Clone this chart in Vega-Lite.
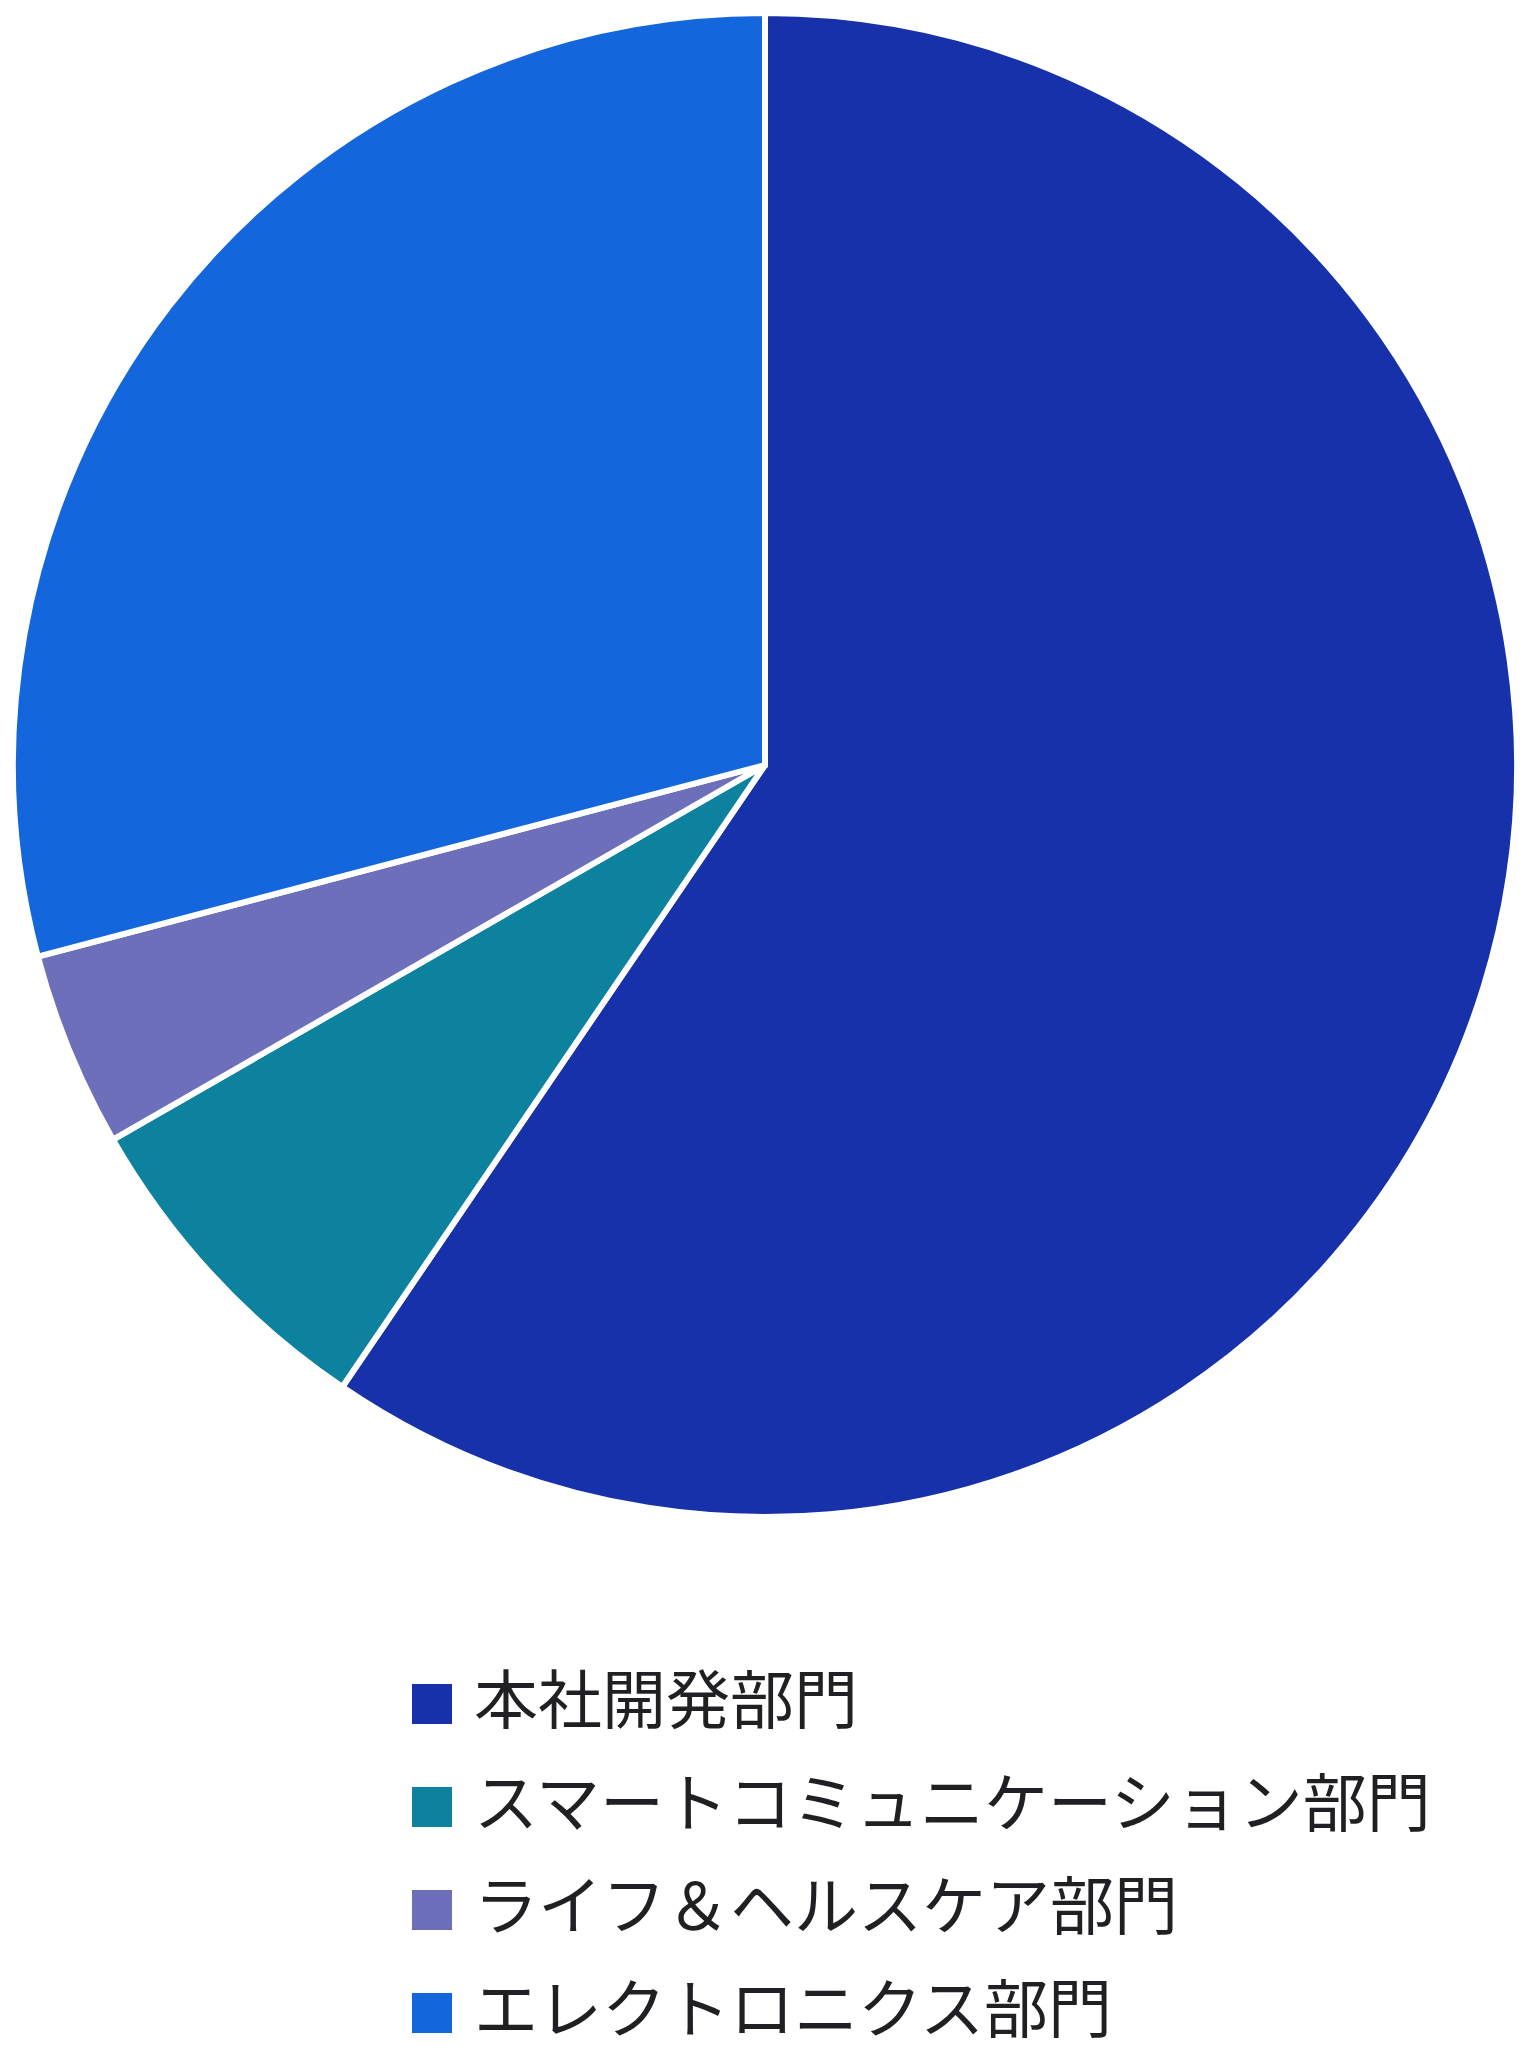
{
  "$schema": "https://vega.github.io/schema/vega-lite/v6.json",
  "width": 1530,
  "height": 1530,
  "padding": 0,
  "autosize": {"type": "pad"},
  "background": "white",
  "config": {"view": {"stroke": null}},
  "data": {
    "values": [
      {"dept": "本社開発部門", "value": 59.5, "order": 1},
      {"dept": "スマートコミュニケーション部門", "value": 7.2, "order": 2},
      {"dept": "ライフ＆ヘルスケア部門", "value": 4.2, "order": 3},
      {"dept": "エレクトロニクス部門", "value": 29.1, "order": 4}
    ]
  },
  "mark": {"type": "arc", "outerRadius": 752, "stroke": "white", "strokeWidth": 6},
  "encoding": {
    "theta": {"field": "value", "type": "quantitative", "stack": true},
    "order": {"field": "order", "type": "quantitative"},
    "color": {
      "field": "dept",
      "type": "nominal",
      "sort": null,
      "scale": {
        "domain": ["本社開発部門", "スマートコミュニケーション部門", "ライフ＆ヘルスケア部門", "エレクトロニクス部門"],
        "range": ["#1631A9", "#0C829F", "#6E6FBB", "#1366DB"]
      },
      "legend": {
        "title": null,
        "orient": "none",
        "legendX": 400,
        "legendY": 1672,
        "direction": "vertical",
        "symbolType": "square",
        "symbolSize": 1600,
        "symbolStrokeWidth": 0,
        "labelFont": "Noto Sans CJK JP",
        "labelFontSize": 64,
        "labelColor": "#1F1F24",
        "labelOffset": 10,
        "labelLimit": 1200,
        "rowPadding": 39,
        "encode": {
          "symbols": {
            "update": {
              "fill": {"signal": "datum.label === '本社開発部門' ? '#0433B1' : datum.label === 'スマートコミュニケーション部門' ? '#0084A3' : datum.label === 'ライフ＆ヘルスケア部門' ? '#6E70C4' : '#0066E0'"},
              "stroke": {"value": "transparent"},
              "opacity": {"value": 1}
            }
          }
        }
      }
    }
  }
}
